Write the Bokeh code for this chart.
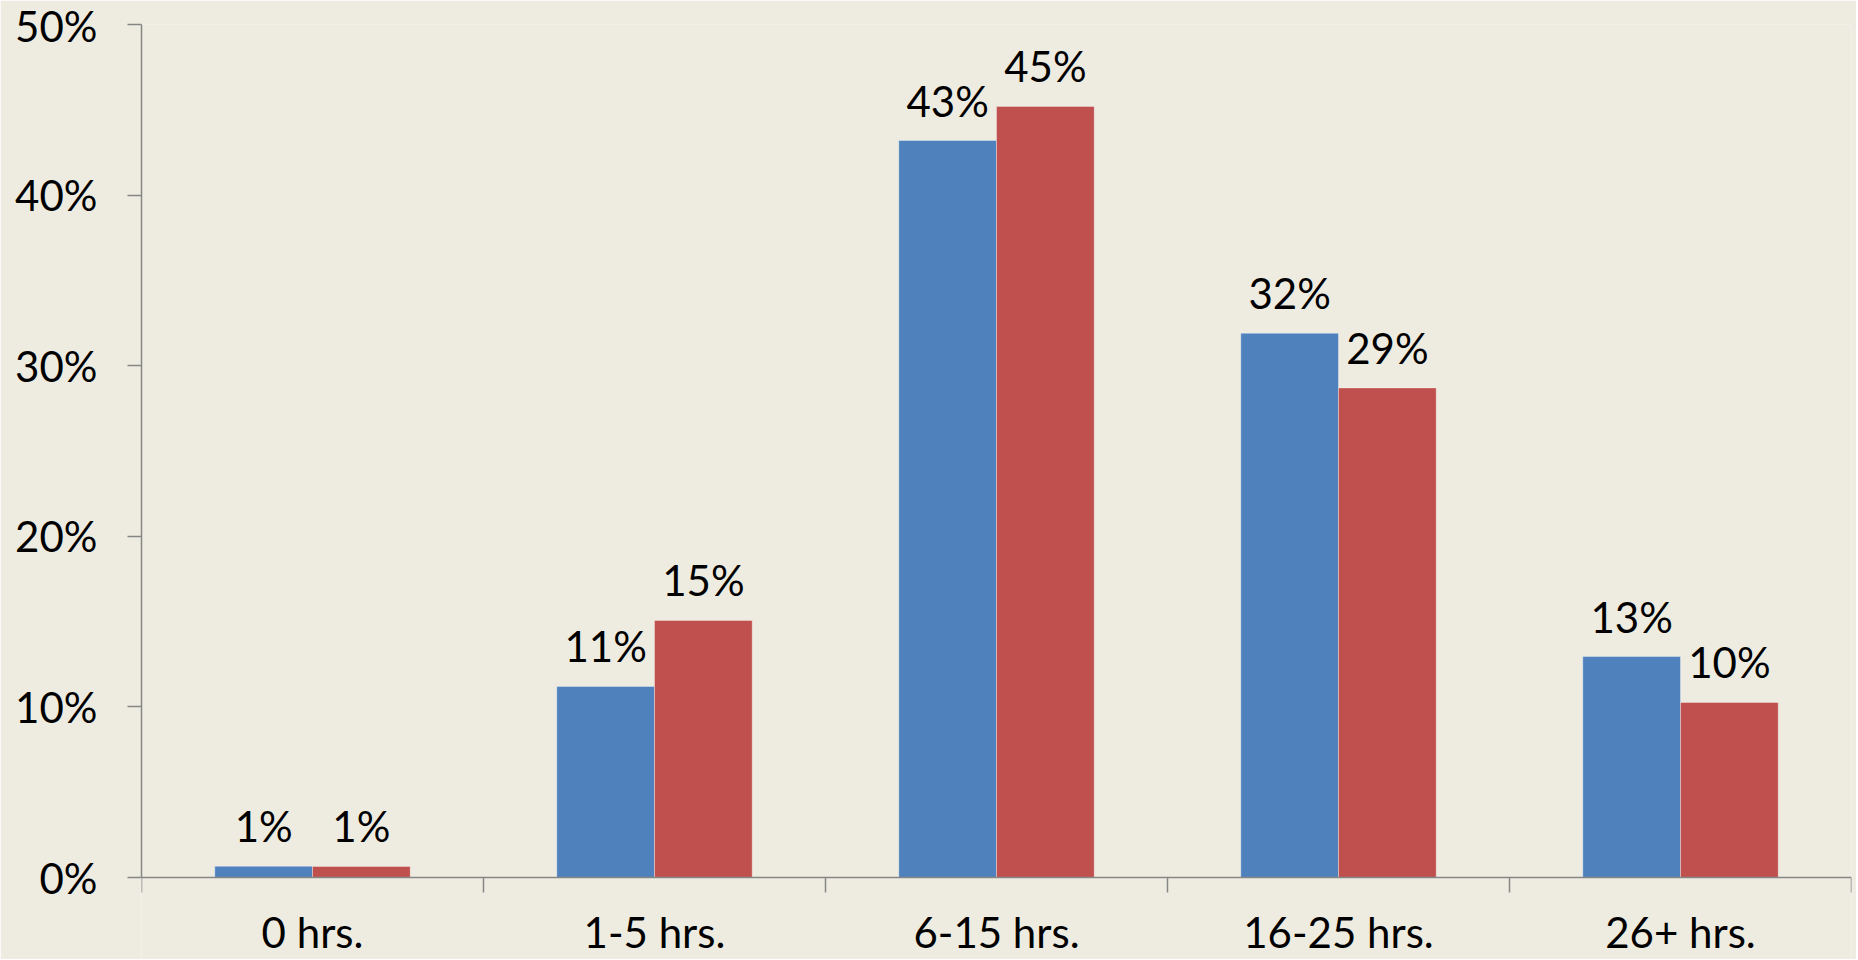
import numpy as np
from bokeh.plotting import figure
from bokeh.core.properties import value
from bokeh.models import (ColumnDataSource, LabelSet, LinearAxis, FixedTicker,
                          NumeralTickFormatter, Range1d)
from bokeh.embed import file_html
from bokeh.resources import INLINE

# ---- data ----
categories = ["0 hrs.", "1-5 hrs.", "6-15 hrs.", "16-25 hrs.", "26+ hrs."]
series_blue = [0.0066, 0.112, 0.432, 0.319, 0.1295]
series_red = [0.0065, 0.1507, 0.452, 0.287, 0.1026]
y_ticks = [0.0, 0.1, 0.2, 0.3, 0.4, 0.5]

BG = "#EEECE1"
BLUE = "#4F81BD"
RED = "#C0504D"
AXIS = "#868686"
FONT = "Lato"
FS = "42px"

n = len(categories)
centers = np.arange(n) + 0.5
bw = 1 / 3.5  # Excel gap width 150%

# layout: value axis spans 853 px (0..50%), frame continues below 0 to the canvas edge
H, TOP, AX_PX = 959, 24, 853
BELOW_PX = H - TOP - AX_PX
y_start = -y_ticks[-1] * BELOW_PX / AX_PX

p = figure(width=1856, height=H, output_backend="svg", toolbar_location=None,
           x_range=Range1d(0, n), y_range=Range1d(y_start, y_ticks[-1]),
           min_border_left=141, min_border_right=5, min_border_top=TOP,
           min_border_bottom=0, x_axis_location=None, y_axis_location=None)
p.background_fill_color = BG
p.border_fill_color = BG
p.outline_line_color = None
p.xgrid.visible = False
p.ygrid.visible = False

src_b = ColumnDataSource(dict(x=centers - bw / 2, top=series_blue,
                              lab=[f"{v*100:.0f}%" for v in series_blue]))
src_r = ColumnDataSource(dict(x=centers + bw / 2, top=series_red,
                              lab=[f"{v*100:.0f}%" for v in series_red]))

p.vbar(x="x", top="top", width=bw, bottom=0, source=src_b, fill_color=BLUE,
       line_color="white", line_alpha=0.35, line_width=1)
p.vbar(x="x", top="top", width=bw, bottom=0, source=src_r, fill_color=RED,
       line_color="white", line_alpha=0.35, line_width=1)

for src in (src_b, src_r):
    p.add_layout(LabelSet(x="x", y="top", text="lab", source=src,
                          text_align="center", text_baseline="alphabetic",
                          y_offset=24, text_font=value(FONT), text_font_size=value(FS),
                          text_color="black"))

# y axis (line only over 0..50%)
yax = LinearAxis(ticker=FixedTicker(ticks=y_ticks, minor_ticks=[]),
                 formatter=NumeralTickFormatter(format="0%"),
                 bounds=(y_ticks[0], y_ticks[-1]))
yax.axis_line_color = AXIS
yax.axis_line_width = 1.5
yax.major_tick_line_color = AXIS
yax.major_tick_line_width = 1.5
yax.major_tick_out = 14
yax.major_tick_in = 0
yax.minor_tick_line_color = None
yax.major_label_standoff = 30
yax.major_label_text_font = FONT
yax.major_label_text_font_size = FS
yax.major_label_text_color = "black"
p.add_layout(yax, "left")

# x axis at y = 0: tick marks at category boundaries, labels at centers
xax = LinearAxis(ticker=FixedTicker(ticks=list(centers),
                                    minor_ticks=list(np.arange(n + 1))),
                 major_label_overrides={float(c): lab for c, lab in zip(centers, categories)},
                 fixed_location=0)
xax.axis_line_color = AXIS
xax.axis_line_width = 1.5
xax.major_tick_line_color = None
xax.major_tick_out = 0
xax.major_tick_in = 0
xax.minor_tick_line_color = AXIS
xax.minor_tick_line_width = 1.5
xax.minor_tick_out = 15
xax.minor_tick_in = 0
xax.major_label_standoff = 14
xax.major_label_text_font = FONT
xax.major_label_text_font_size = FS
xax.major_label_text_color = "black"
p.add_layout(xax, "below")

open("out.html", "w").write(file_html(p, INLINE))
